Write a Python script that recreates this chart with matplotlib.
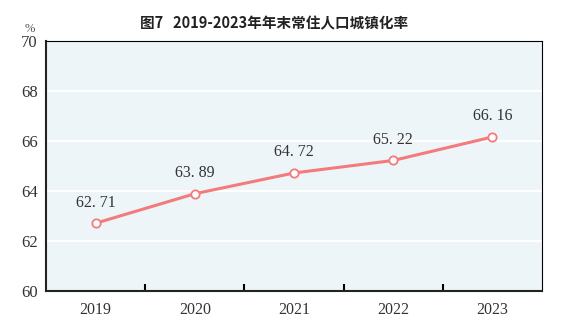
import matplotlib.pyplot as plt
from matplotlib.ticker import FixedLocator

years = ['2019', '2020', '2021', '2022', '2023']
rates = [62.71, 63.89, 64.72, 65.22, 66.16]
yticks = [60, 62, 64, 66, 68, 70]

plt.rcParams['font.family'] = ['Liberation Serif', 'DejaVu Serif']

fig = plt.figure(figsize=(5.7, 3.36), dpi=100)
ax = fig.add_axes([0.0807, 0.134, 0.870, 0.744])
ax.set_facecolor('#edf5f9')

x = list(range(len(years)))
ax.plot(x, rates, color='#f37b7b', lw=2.2, marker='o', ms=6,
        mfc='white', mec='#f37b7b', mew=1.3, zorder=3)
for xi, v in zip(x, rates):
    ax.annotate(f'{v:.2f}'.replace('.', '. '), (xi, v), textcoords='offset points',
                xytext=(0, 12), ha='center', fontsize=11.5, color='#333333')

ax.set_xlim(-0.5, len(years) - 0.5)
ax.set_ylim(60, 70)
ax.set_yticks(yticks)
ax.set_xticks(x)
ax.set_xticklabels(years)
ax.xaxis.set_minor_locator(FixedLocator([i + 0.5 for i in x[:-1]]))
ax.tick_params(axis='x', which='major', length=0, pad=8, labelsize=11.5, labelcolor='#333333')
ax.tick_params(axis='x', which='minor', direction='in', length=5, width=1.5)
ax.tick_params(axis='y', length=0, pad=6, labelsize=12, labelcolor='#333333')
ax.grid(axis='y', color='white', lw=1.5)
ax.set_axisbelow(True)
for s in ['top', 'right']:
    ax.spines[s].set_linewidth(0.8)
for s in ['left', 'bottom']:
    ax.spines[s].set_linewidth(1.5)
    ax.spines[s].set_color('#222222')

fig.text(0.0526, 0.905, '%', fontsize=9, ha='center', color='#555555')
fig.text(0.48, 0.915, '图7   2019-2023年年末常住人口城镇化率', ha='center',
         fontsize=10.5, fontweight='bold', color='#222222',
         family=['Noto Sans CJK SC', 'DejaVu Sans'])

fig.savefig('out.png', dpi=100)
